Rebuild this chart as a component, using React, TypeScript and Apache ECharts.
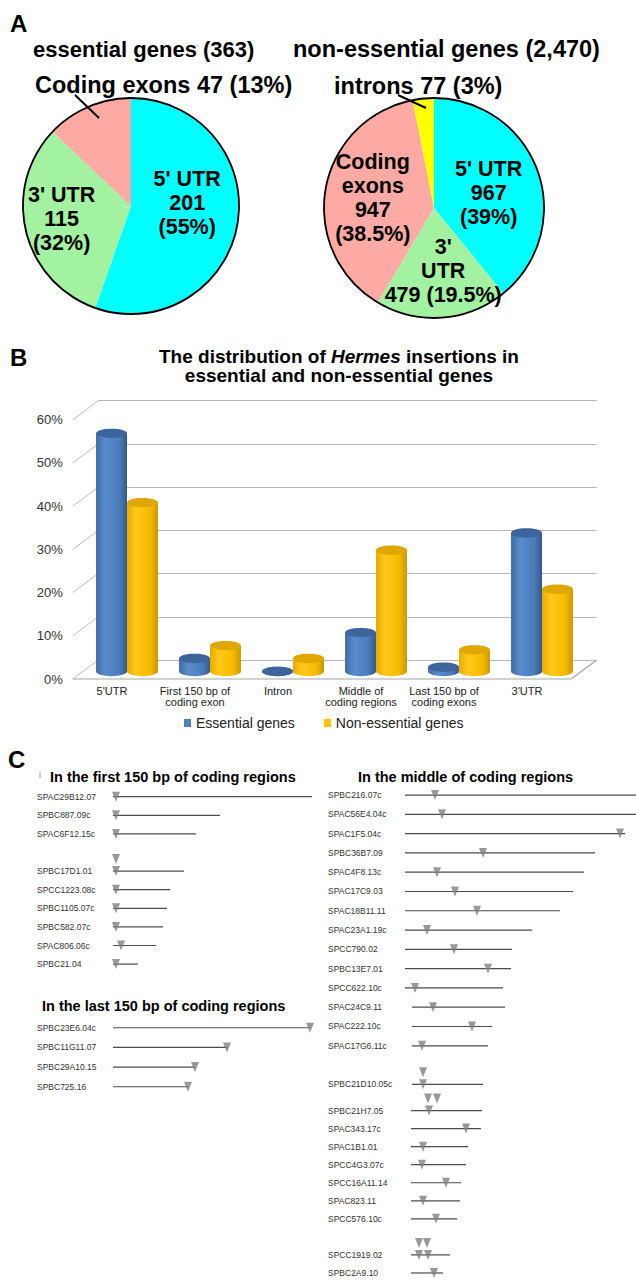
import React, { useEffect, useRef } from 'react';
import * as echarts from 'echarts';

const FONT = "'Liberation Sans', Arial, Helvetica, sans-serif";

// ---------- Panel A : pie charts ----------
const essentialSlices = ["5' UTR", "3' UTR", 'Coding exons'];
const essentialCounts = [201, 115, 47];
const essentialPercents = ['55%', '32%', '13%'];
const nonEssentialSlices = ["5' UTR", "3'\nUTR", 'Coding\nexons', 'introns'];
const nonEssentialCounts = [967, 479, 947, 77];
const nonEssentialPercents = ['39%', '19.5%', '38.5%', '3%'];
const sliceColors = ['#00ffff', '#a2f2a2', '#fcaaa3', '#ffff00'];

// ---------- Panel B : bar chart ----------
const regionCategories = [
  "5'UTR",
  'First 150 bp of\ncoding exon',
  'Intron',
  'Middle of\ncoding regions',
  'Last 150 bp of\ncoding exons',
  "3'UTR",
];
const essentialShare = [55, 3, 0, 9, 1, 32];
const nonEssentialShare = [39, 6, 3, 28, 5, 19];
const shareTicks = [0, 10, 20, 30, 40, 50, 60];
const seriesNames = ['Essential genes', 'Non-essential genes'];

// ---------- Panel C : gene diagrams ----------
const firstGenes = ['SPAC29B12.07', 'SPBC887.09c', 'SPAC6F12.15c', '', 'SPBC17D1.01', 'SPCC1223.08c', 'SPBC1105.07c', 'SPBC582.07c', 'SPAC806.06c', 'SPBC21.04'];
const firstStarts = [0, 0, 0, null, 0, 0, 0, 0, 0, 0];
const firstEnds = [199, 107, 83, null, 71, 57, 54, 50, 43, 25];
const firstInsertions = [[3], [3], [3], [], [3], [3], [3], [3], [8], [3]];
const firstStacked = [[], [], [], [], [3], [], [], [], [], []];

const lastGenes = ['SPBC23E6.04c', 'SPBC11G11.07', 'SPBC29A10.15', 'SPBC725.16'];
const lastStarts = [0, 0, 0, 0];
const lastEnds = [197, 114, 82, 75];
const lastInsertions = [[197], [114], [82], [75]];
const lastStacked = [[], [], [], []];

const middleGenesTop = ['SPBC216.07c', 'SPAC56E4.04c', 'SPAC1F5.04c', 'SPBC36B7.09', 'SPAC4F8.13c', 'SPAC17C9.03', 'SPAC18B11.11', 'SPAC23A1.19c', 'SPCC790.02', 'SPBC13E7.01', 'SPCC622.10c', 'SPAC24C9.11', 'SPAC222.10c', 'SPAC17G6.11c', '', 'SPBC21D10.05c'];
const middleStartsTop = [0, 0, 0, 0, 0, 0, 0, 0, 0, 0, 0, 7, 7, 7, null, 7];
const middleEndsTop = [240, 240, 220, 190, 179, 168, 155, 127, 107, 106, 98, 100, 87, 83, null, 78];
const middleInsertionsTop = [[30], [37], [215], [78], [32], [50], [72], [22], [49], [83], [10], [28], [67], [17], [], [18]];
const middleStackedTop = [[], [], [], [], [], [], [], [], [], [], [], [], [], [], [], [18]];

const middleGenesBottom = ['SPBC21H7.05', 'SPAC343.17c', 'SPAC1B1.01', 'SPCC4G3.07c', 'SPCC16A11.14', 'SPAC823.11', 'SPCC576.10c', '', 'SPCC1919.02', 'SPBC2A9.10'];
const middleStartsBottom = [6, 6, 6, 6, 6, 6, 6, null, 6, 6];
const middleEndsBottom = [77, 76, 63, 61, 56, 55, 52, null, 45, 38];
const middleInsertionsBottom = [[24], [61], [18], [17], [41], [18], [31], [], [14, 23], [29]];
const middleStackedBottom = [[23, 32], [], [], [], [], [], [], [], [14, 22], []];

const TRI = 'path://M0,0L10,0L5,10Z';

function textEl(text: string, x: number, y: number, size: number, align = 'left', extra: any = {}) {
  return {
    type: 'text',
    x,
    y,
    silent: true,
    style: {
      text,
      fontSize: size,
      fontWeight: 'bold',
      fontFamily: FONT,
      fill: '#000',
      align,
      textAlign: align,
      verticalAlign: 'middle',
      textVerticalAlign: 'middle',
      ...extra,
    },
  };
}

function geneSeries(gi: number, names: string[], starts: any[], ends: any[], inserts: number[][], stacked: number[][]) {
  const lineData: number[][] = [];
  names.forEach((n, i) => {
    if (n) lineData.push([starts[i], ends[i], i]);
  });
  const insData: number[][] = [];
  inserts.forEach((arr, i) => arr.forEach((x) => insData.push([x, i])));
  const stackData: number[][] = [];
  stacked.forEach((arr, i) => arr.forEach((x) => stackData.push([x, i])));
  return [
    {
      type: 'custom',
      xAxisIndex: gi,
      yAxisIndex: gi,
      data: lineData,
      encode: { x: [0, 1], y: 2 },
      silent: true,
      z: 2,
      renderItem: (params: any, api: any) => {
        const row = api.value(2);
        const p0 = api.coord([api.value(0), row]);
        const p1 = api.coord([api.value(1), row]);
        return {
          type: 'line',
          shape: { x1: p0[0], y1: p0[1], x2: p1[0], y2: p1[1] },
          style: { stroke: '#4d4d4d', lineWidth: 1.2 },
        };
      },
    },
    {
      type: 'scatter',
      xAxisIndex: gi,
      yAxisIndex: gi,
      data: insData,
      symbol: TRI,
      symbolSize: [8, 10],
      itemStyle: { color: '#7f7f7f' },
      silent: true,
      z: 3,
    },
    {
      type: 'scatter',
      xAxisIndex: gi,
      yAxisIndex: gi,
      data: stackData,
      symbol: TRI,
      symbolSize: [8, 10],
      symbolOffset: [0, -12],
      itemStyle: { color: '#7f7f7f' },
      silent: true,
      z: 3,
    },
  ];
}

function geneYAxis(gi: number, names: string[], margin: number) {
  return {
    gridIndex: gi,
    type: 'category',
    inverse: true,
    data: names,
    axisLine: { show: false },
    axisTick: { show: false },
    splitLine: { show: false },
    axisLabel: { interval: 0, align: 'left', margin, fontSize: 8.5, color: '#333', fontFamily: FONT },
  };
}

function cylinder(side: number, stops: string[], topColor: string) {
  return (params: any, api: any) => {
    const c = api.value(0);
    const v = api.value(1);
    const base = api.coord([c, 0]);
    const top = api.coord([c, v]);
    const band = api.size([1, 0])[0];
    const bw = band * 0.373;
    const cx = base[0] + (side * bw) / 2;
    const rx = bw / 2;
    const ry = bw * 0.15;
    const body = new echarts.graphic.LinearGradient(0, 0, 1, 0, [
      { offset: 0, color: stops[0] },
      { offset: 0.3, color: stops[1] },
      { offset: 0.75, color: stops[2] },
      { offset: 1, color: stops[3] },
    ]);
    return {
      type: 'group',
      children: [
        { type: 'ellipse', shape: { cx, cy: base[1], rx, ry }, style: { fill: body } },
        { type: 'rect', shape: { x: cx - rx, y: top[1], width: bw, height: base[1] - top[1] }, style: { fill: body } },
        { type: 'ellipse', shape: { cx, cy: top[1], rx, ry }, style: { fill: topColor } },
      ],
    };
  };
}

// label nudges inside the pies (layout only)
const leftPieNudge = [[0, -13], [-14, 0], [0, 0]];
const rightPieNudge = [[0, 4], [5, 5], [-4, 0], [0, 0]];

function buildOption(): any {
  const leftPieData = essentialSlices.map((n, i) => ({
    name: n,
    value: essentialCounts[i],
    itemStyle: { color: sliceColors[i] },
    label: { show: i < 2 },
  }));
  const rightPieData = nonEssentialSlices.map((n, i) => ({
    name: n,
    value: nonEssentialCounts[i],
    itemStyle: { color: sliceColors[i] },
    label: { show: i < 3 },
  }));
  const pieLabel = {
    position: 'inside',
    fontSize: 21.5,
    fontWeight: 'bold',
    fontFamily: FONT,
    color: '#000',
    lineHeight: 24,
    align: 'center',
  };
  const border = (center: number[], r: number) => ({
    type: 'pie',
    center,
    radius: r,
    silent: true,
    z: 5,
    data: [{ value: 1, name: 'outline' }],
    label: { show: false },
    labelLine: { show: false },
    itemStyle: { color: 'rgba(0,0,0,0)', borderColor: '#000', borderWidth: 1.8 },
  });

  const essentialOutside = `${essentialSlices[2]} ${essentialCounts[2]} (${essentialPercents[2]})`;
  const nonEssentialOutside = `${nonEssentialSlices[3]} ${nonEssentialCounts[3]} (${nonEssentialPercents[3]})`;

  return {
    animation: false,
    backgroundColor: '#fff',
    textStyle: { fontFamily: FONT },
    legend: {
      data: seriesNames,
      left: 179,
      top: 711,
      itemWidth: 7,
      itemHeight: 8,
      itemGap: 29,
      icon: 'rect',
      selectedMode: false,
      textStyle: { fontSize: 14, color: '#222', fontFamily: FONT },
    },
    grid: [
      { left: 98.3, top: 400.7, width: 498.4, height: 259.3 },
      { left: 85.5, top: 411.7, width: 498, height: 259.8 },
      { left: 113, top: 787.4, width: 199, height: 186 },
      { left: 113, top: 1017.9, width: 199, height: 78.7 },
      { left: 405, top: 785.4, width: 231, height: 308.6 },
      { left: 405, top: 1101.5, width: 231, height: 183.7 },
    ],
    xAxis: [
      { gridIndex: 0, type: 'value', min: 0, max: 1, show: false },
      {
        gridIndex: 1,
        type: 'category',
        data: regionCategories,
        axisLine: { show: false },
        axisTick: { show: false },
        axisLabel: { interval: 0, fontSize: 11, lineHeight: 11, color: '#222', fontFamily: FONT, margin: 14, padding: [0, 30, 0, 0] },
      },
      { gridIndex: 2, type: 'value', min: 0, max: 199, show: false },
      { gridIndex: 3, type: 'value', min: 0, max: 199, show: false },
      { gridIndex: 4, type: 'value', min: 0, max: 231, show: false },
      { gridIndex: 5, type: 'value', min: 0, max: 231, show: false },
    ],
    yAxis: [
      {
        gridIndex: 0,
        type: 'value',
        min: 0,
        max: 60,
        interval: 10,
        axisLine: { show: false },
        axisTick: { show: false },
        splitLine: { lineStyle: { color: '#b9b9b9', width: 1.2 } },
        axisLabel: {
          formatter: '{value}%',
          fontSize: 13,
          color: '#333',
          fontFamily: FONT,
          margin: 35.6,
          verticalAlign: 'top',
          padding: [12.5, 0, 0, 0],
        },
      },
      { gridIndex: 1, type: 'value', min: 0, max: 60, show: false },
      geneYAxis(2, firstGenes, 76),
      geneYAxis(3, lastGenes, 76),
      geneYAxis(4, middleGenesTop, 77),
      geneYAxis(5, middleGenesBottom, 77),
    ],
    series: [
      {
        type: 'pie',
        center: [131, 206],
        radius: 108,
        startAngle: 90,
        clockwise: true,
        silent: true,
        avoidLabelOverlap: false,
        data: leftPieData,
        label: {
          ...pieLabel,
          formatter: (p: any) =>
            `${essentialSlices[p.dataIndex]}\n${essentialCounts[p.dataIndex]}\n(${essentialPercents[p.dataIndex]})`,
        },
        labelLayout: (p: any) => ({ dx: leftPieNudge[p.dataIndex][0], dy: leftPieNudge[p.dataIndex][1] }),
        labelLine: { show: false },
        itemStyle: { borderWidth: 0 },
      },
      border([131, 206], 108),
      {
        type: 'pie',
        center: [434, 208],
        radius: 110,
        startAngle: 90,
        clockwise: true,
        silent: true,
        avoidLabelOverlap: false,
        data: rightPieData,
        label: {
          ...pieLabel,
          formatter: (p: any) => {
            const i = p.dataIndex;
            return i === 1
              ? `${nonEssentialSlices[i]}\n${nonEssentialCounts[i]} (${nonEssentialPercents[i]})`
              : `${nonEssentialSlices[i]}\n${nonEssentialCounts[i]}\n(${nonEssentialPercents[i]})`;
          },
        },
        labelLayout: (p: any) => ({ dx: rightPieNudge[p.dataIndex][0], dy: rightPieNudge[p.dataIndex][1] }),
        labelLine: { show: false },
        itemStyle: { borderWidth: 0 },
      },
      border([434, 208], 110),
      {
        type: 'custom',
        name: 'walls',
        xAxisIndex: 0,
        yAxisIndex: 0,
        silent: true,
        z: 1,
        data: shareTicks.map((v) => [0, v]),
        renderItem: (params: any, api: any) => {
          const cs = params.coordSys;
          const v = api.value(1);
          const p = api.coord([0, v]);
          const dx = 25.5;
          const dy = 19;
          const children: any[] = [
            { type: 'line', shape: { x1: cs.x - dx, y1: p[1] + dy, x2: cs.x, y2: p[1] }, style: { stroke: '#bdbdbd', lineWidth: 1 } },
          ];
          if (v === 0) {
            children.push({
              type: 'line',
              shape: { x1: cs.x - dx, y1: p[1] + dy, x2: cs.x + cs.width - dx, y2: p[1] + dy },
              style: { stroke: '#a6a6a6', lineWidth: 1.2 },
            });
            children.push({
              type: 'line',
              shape: { x1: cs.x + cs.width - dx, y1: p[1] + dy, x2: cs.x + cs.width, y2: p[1] },
              style: { stroke: '#a6a6a6', lineWidth: 1.2 },
            });
          }
          return { type: 'group', children };
        },
      },
      {
        type: 'custom',
        name: seriesNames[0],
        xAxisIndex: 1,
        yAxisIndex: 1,
        silent: true,
        z: 3,
        itemStyle: { color: '#4f81bd' },
        data: essentialShare.map((v, i) => [i, v]),
        encode: { x: 0, y: 1 },
        renderItem: cylinder(-1, ['#3f6ba6', '#5a8bcb', '#4b7cba', '#33598c'], '#3b659c'),
      },
      {
        type: 'custom',
        name: seriesNames[1],
        xAxisIndex: 1,
        yAxisIndex: 1,
        silent: true,
        z: 3,
        itemStyle: { color: '#ffc000' },
        data: nonEssentialShare.map((v, i) => [i, v]),
        encode: { x: 0, y: 1 },
        renderItem: cylinder(1, ['#e6ad00', '#ffc81a', '#f5bb00', '#c99700'], '#dfa700'),
      },
      ...geneSeries(2, firstGenes, firstStarts, firstEnds, firstInsertions, firstStacked),
      ...geneSeries(3, lastGenes, lastStarts, lastEnds, lastInsertions, lastStacked),
      ...geneSeries(4, middleGenesTop, middleStartsTop, middleEndsTop, middleInsertionsTop, middleStackedTop),
      ...geneSeries(5, middleGenesBottom, middleStartsBottom, middleEndsBottom, middleInsertionsBottom, middleStackedBottom),
    ],
    graphic: [
      textEl('A', 10, 23.5, 24),
      textEl('essential genes (363)', 33, 49, 22),
      textEl('non-essential genes (2,470)', 293, 49, 23.5),
      textEl(essentialOutside, 35, 84.5, 23.5),
      textEl(nonEssentialOutside, 334, 85.5, 23.5),
      { type: 'line', silent: true, z: 10, shape: { x1: 75, y1: 95, x2: 99, y2: 118 }, style: { stroke: '#000', lineWidth: 2 } },
      { type: 'line', silent: true, z: 10, shape: { x1: 398, y1: 95, x2: 426, y2: 108 }, style: { stroke: '#000', lineWidth: 2 } },
      textEl('B', 10, 357.5, 24),
      textEl('The distribution of {i|Hermes} insertions in\nessential and non-essential genes', 339, 366, 19, 'center', {
        lineHeight: 19.3,
        rich: { i: { fontStyle: 'italic', fontWeight: 'bold', fontSize: 19, fontFamily: FONT, lineHeight: 19.3 } },
      }),
      textEl('C', 8, 759, 24),
      { type: 'line', silent: true, shape: { x1: 40, y1: 772, x2: 40, y2: 778 }, style: { stroke: '#999', lineWidth: 1 } },
      textEl('In the first 150 bp of coding regions', 50, 777, 14.5),
      textEl('In the last 150 bp of coding regions', 42, 1006, 14.5),
      textEl('In the middle of coding regions', 358, 777, 14.5),
    ],
  };
}

export default function App() {
  const ref = useRef<HTMLDivElement>(null);
  useEffect(() => {
    document.body.style.margin = '0';
    const chart = echarts.init(ref.current as HTMLDivElement, null, { renderer: 'svg' });
    chart.setOption(buildOption());
    return () => chart.dispose();
  }, []);
  return <div ref={ref} style={{ width: 636, height: 1282 }} />;
}
